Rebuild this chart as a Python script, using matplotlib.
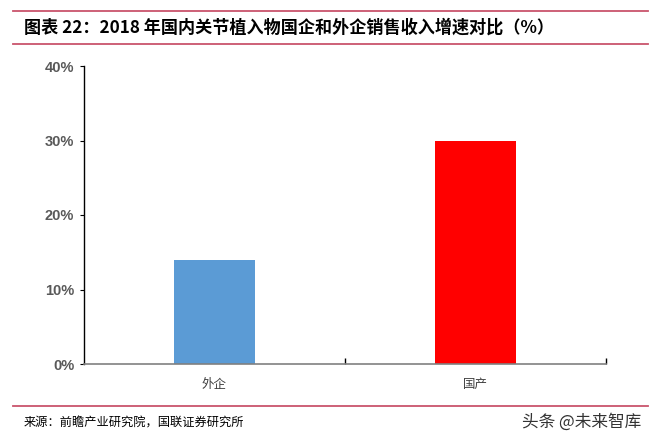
import matplotlib
matplotlib.use("Agg")
import matplotlib.pyplot as plt
from matplotlib.lines import Line2D
from matplotlib.ticker import FuncFormatter, FixedLocator

categories = ["外企", "国产"]
values = [14, 30]
colors = ["#5B9BD5", "#FF0000"]
yticks = [0, 10, 20, 30, 40]

title = "图表 22：2018 年国内关节植入物国企和外企销售收入增速对比（%）"
source = "来源：前瞻产业研究院，国联证券研究所"
watermark = "头条 @未来智库"

W, H = 653, 438
fig = plt.figure(figsize=(W / 100, H / 100), dpi=100)
fig.patch.set_facecolor("white")

ax = fig.add_axes([84 / W, (H - 364) / H, (606 - 84) / W, (364 - 66) / H])
x = list(range(len(categories)))
ax.bar(x, values, width=0.31, color=colors, zorder=2)
ax.set_xlim(-0.5, len(categories) - 0.5)
ax.set_ylim(0, 40)
ax.yaxis.set_major_locator(FixedLocator(yticks))
ax.yaxis.set_major_formatter(FuncFormatter(lambda v, p: f"{int(v)}%"))
for spine in ["top", "right"]:
    ax.spines[spine].set_visible(False)
ax.spines["left"].set_color("#000000")
ax.spines["left"].set_linewidth(1.0)
ax.spines["bottom"].set_color("#808080")
ax.spines["bottom"].set_linewidth(1.2)
ax.tick_params(axis="y", direction="out", length=3, width=0.8, color="#000000",
               labelsize=10.5, labelcolor="#595959", pad=4)
for lbl in ax.get_yticklabels():
    lbl.set_fontweight("bold")
    lbl.set_family(["Liberation Sans", "DejaVu Sans"])
ax.set_xticks(x)
ax.set_xticklabels(categories, family=["Noto Sans CJK SC", "DejaVu Sans"],
                   fontsize=9, color="#404040")
ax.tick_params(axis="x", length=0, pad=10)
ax.set_xticks([0.5, 1.5], minor=True)
ax.tick_params(axis="x", which="minor", direction="in", length=4, width=1.0, color="#000000")

line_color = "#C9546C"
for yy in [11, 44, 406]:
    fig.add_artist(Line2D([13 / W, 648 / W], [1 - yy / H, 1 - yy / H],
                          color=line_color, linewidth=1.3, transform=fig.transFigure))

fig.text(24 / W, 1 - 28 / H, title, family=["Noto Sans CJK SC", "DejaVu Sans"],
         fontsize=12.3, fontweight="bold", style="italic", color="#000000",
         ha="left", va="center")
fig.text(24 / W, 1 - 423 / H, source, family=["Noto Sans CJK SC", "DejaVu Sans"],
         fontsize=8.8, color="#000000", ha="left", va="center")
fig.text(641 / W, 1 - 422 / H, watermark, family=["Noto Sans CJK SC", "DejaVu Sans"],
         fontsize=12, color="#333333", ha="right", va="center")

fig.savefig("out.png", dpi=100, facecolor="white")
